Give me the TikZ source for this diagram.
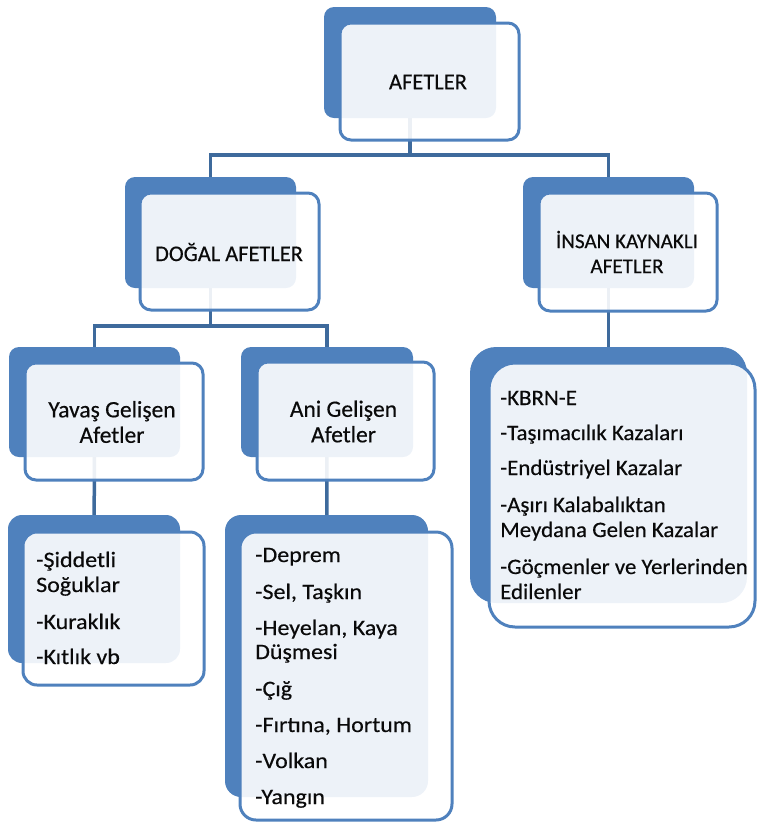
\documentclass[tikz,border=0pt]{standalone}
\usepackage{fontspec}
\setmainfont{Carlito}[FakeBold=0.4]
\newfontfamily\lblfont{Carlito}[FakeBold=0.4]
\newfontfamily\lstfontA{Carlito}[FakeStretch=1.04,FakeBold=0.4]
\newfontfamily\lstfontB{Carlito}[FakeStretch=1.09,FakeBold=0.4]
\pgfdeclarelayer{bg}
\pgfsetlayers{bg,main}
\definecolor{bblue}{RGB}{79,129,189}
\definecolor{cblue}{RGB}{62,106,156}
\definecolor{txt}{RGB}{10,10,10}
\tikzset{
  backbox/.style={fill=bblue, draw=none, rounded corners=10pt, inner sep=0pt},
  frontbox/.style={fill=white, fill opacity=0.9, text opacity=1, draw=bblue, draw opacity=1, line width=3pt, rounded corners=11pt, inner sep=0pt},
  conn/.style={draw=cblue, line width=3.5pt},
  lbl/.style={text=txt, align=center, inner sep=0pt},
  lsta/.style={font=\lstfontA\fontsize{22}{24.5}\selectfont, text=txt, anchor=base west, inner sep=0pt},
  lstb/.style={font=\lstfontB\fontsize{22}{24.5}\selectfont, text=txt, anchor=base west, inner sep=0pt},
}
\begin{document}
\begin{tikzpicture}[x=1pt,y=-1pt]
\path[use as bounding box] (0,0) rectangle (759,823);
% back boxes
\node[backbox, minimum width=172pt, minimum height=111pt] (afB) at (410,62.5) {};
\node[backbox, minimum width=171pt, minimum height=111pt] (dgB) at (210.5,232.5) {};
\node[backbox, minimum width=171pt, minimum height=111pt] (inB) at (608.5,232.5) {};
\node[backbox, minimum width=171pt, minimum height=110pt] (yvB) at (94.5,402) {};
\node[backbox, minimum width=172pt, minimum height=110pt] (anB) at (327,402) {};
\node[backbox, minimum width=172pt, minimum height=148pt, rounded corners=14pt] (ylB) at (94,589) {};
\node[backbox, minimum width=203pt, minimum height=282pt, rounded corners=16pt] (alB) at (326.5,656) {};
\node[backbox, minimum width=277pt, minimum height=256pt, rounded corners=26pt] (ilB) at (608.5,475) {};
% junctions
\coordinate (j1) at (410,155);
\coordinate (j2) at (210.5,326);
% connectors (beneath boxes)
\begin{pgfonlayer}{bg}
\draw[conn] (afB.center) -- (j1);
\draw[conn] (dgB.center) |- (j1) -| (inB.center);
\draw[conn] (dgB.center) -- (j2);
\draw[conn] (yvB.center) |- (j2) -| (anB.center);
\draw[conn] (yvB.center) -- (ylB.center);
\draw[conn] (anB.center) -- (alB.center);
\draw[conn] (inB.center) -- (ilB.center);
\end{pgfonlayer}
% front boxes
\node[frontbox, minimum width=179pt, minimum height=117pt] (afF) at (429.5,81.5) {};
\node[frontbox, minimum width=179pt, minimum height=117pt] (dgF) at (229.5,251.5) {};
\node[frontbox, minimum width=178pt, minimum height=118pt] (inF) at (628,252) {};
\node[frontbox, minimum width=178pt, minimum height=117pt] (yvF) at (114,421.5) {};
\node[frontbox, minimum width=177pt, minimum height=118pt] (anF) at (345.5,421) {};
\node[frontbox, minimum width=181pt, minimum height=153pt, rounded corners=14pt] (ylF) at (113.5,608.5) {};
\node[frontbox, minimum width=212pt, minimum height=288pt, rounded corners=16pt] (alF) at (346,676) {};
\node[frontbox, minimum width=266pt, minimum height=264pt, rounded corners=26pt] (ilF) at (622,495) {};
% labels
\node[lbl, font=\lblfont\fontsize{22.5}{26}\selectfont] (afT) at (428,82) {AFETLER};
\node[lbl, font=\lblfont\fontsize{22.4}{26}\selectfont] (dgT) at (229,252) {DOĞAL AFETLER};
\node[lbl, font=\lblfont\fontsize{21.1}{25}\selectfont] (inT) at (627,252) {İNSAN KAYNAKLI\\AFETLER};
\node[lbl, font=\lblfont\fontsize{23.5}{25.5}\selectfont] (yvT) at (112,422) {Yavaş Gelişen\\Afetler};
\node[lbl, font=\lblfont\fontsize{23.5}{25.5}\selectfont] (anT) at (343.5,421.5) {Ani Gelişen\\Afetler};
% Yavaş list
\node[lstb] (y1) at (36,567) {-Şiddetli};
\node[lstb] (y2) at (36,592) {Soğuklar};
\node[lstb] (y3) at (36,629) {-Kuraklık};
\node[lstb] (y4) at (36,664) {-Kıtlık vb};
% Ani list
\node[lstb] (a1) at (255,562) {-Deprem};
\node[lstb] (a2) at (255,599) {-Sel, Taşkın};
\node[lstb] (a3) at (255,635) {-Heyelan, Kaya};
\node[lstb] (a4) at (255,659) {Düşmesi};
\node[lstb] (a5) at (255,696) {-Çığ};
\node[lstb] (a6) at (255,732) {-Fırtına, Hortum};
\node[lstb] (a7) at (255,768) {-Volkan};
\node[lstb] (a8) at (255,804) {-Yangın};
% İnsan list
\node[lsta] (i1) at (500,405) {-KBRN-E};
\node[lsta] (i2) at (500,440) {-Taşımacılık Kazaları};
\node[lsta] (i3) at (500,475) {-Endüstriyel Kazalar};
\node[lsta] (i4) at (500,512) {-Aşırı Kalabalıktan};
\node[lsta] (i5) at (500,537) {Meydana Gelen Kazalar};
\node[lsta] (i6) at (500,574) {-Göçmenler ve Yerlerinden};
\node[lsta] (i7) at (500,599) {Edilenler};
\end{tikzpicture}
\end{document}
